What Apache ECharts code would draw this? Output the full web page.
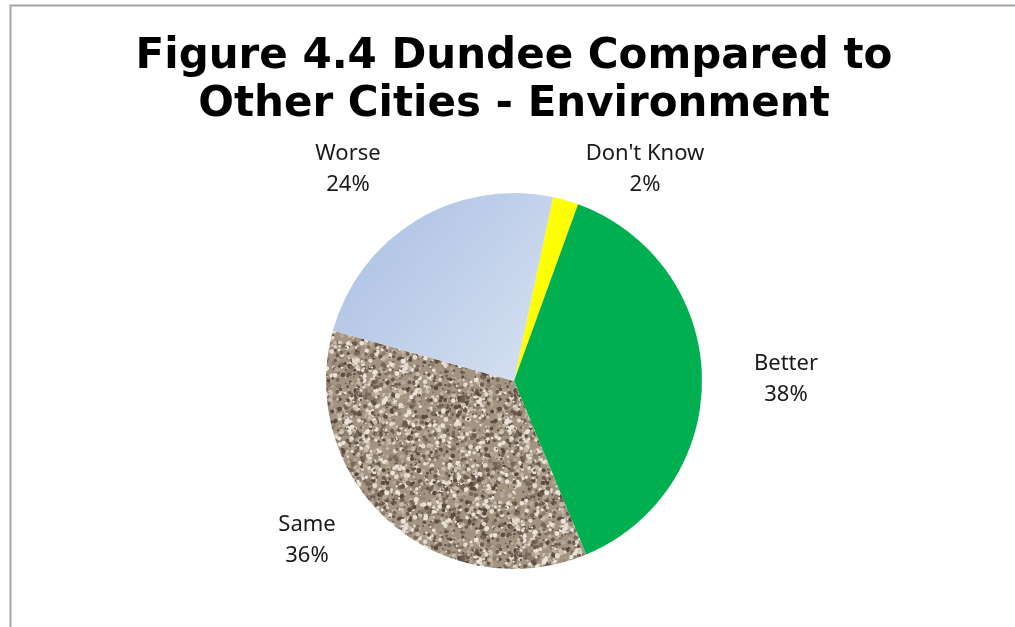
<!DOCTYPE html>
<html>
<head>
<meta charset="utf-8">
<script src="https://cdn.jsdelivr.net/npm/echarts@6/dist/echarts.min.js"></script>
<style>
html,body{margin:0;padding:0;background:#fff;}
#chart{width:1015px;height:627px;}
</style>
</head>
<body>
<div id="chart"></div>
<script>
// ---- data ----
const titleLines = ['Figure 4.4 Dundee Compared to', 'Other Cities - Environment'];
const categories = ["Don't Know", 'Better', 'Same', 'Worse'];
const values = [2.2, 38.2, 35.6, 24.0];
const percentLabels = ['2%', '38%', '36%', '24%'];

// ---- styles ----
const labelPos = [[645, 169], [786, 379], [307, 540], [348, 169]];

function makeGranite() {
  const c = document.createElement('canvas');
  c.width = 160; c.height = 160;
  const ctx = c.getContext('2d');
  ctx.fillStyle = '#a39482';
  ctx.fillRect(0, 0, 160, 160);
  let s = 987654;
  const rnd = () => { s = (s * 1103515245 + 12345) & 0x7fffffff; return s / 0x7fffffff; };
  const cols = ['#5a4b40', '#76675a', '#c8bbac', '#e4dbd0', '#8e7e70', '#b5a797', '#ece4da', '#6a5a4d'];
  for (let i = 0; i < 2600; i++) {
    const x = rnd() * 160, y = rnd() * 160;
    const r = 0.7 + rnd() * 1.8;
    ctx.fillStyle = cols[Math.floor(rnd() * cols.length)];
    for (const ox of [-160, 0, 160]) for (const oy of [-160, 0, 160]) {
      ctx.beginPath(); ctx.arc(x + ox, y + oy, r, 0, Math.PI * 2); ctx.fill();
    }
  }
  return c;
}

const colors = [
  '#ffff00',
  '#00b050',
  { image: makeGranite(), repeat: 'repeat' },
  { type: 'linear', x: 0, y: 0, x2: 1, y2: 1,
    colorStops: [{ offset: 0, color: '#a8bde3' }, { offset: 1, color: '#d8e2f1' }] }
];

const chart = echarts.init(document.getElementById('chart'));
chart.setOption({
  backgroundColor: '#ffffff',
  animation: false,
  title: {
    text: titleLines.join('\n'),
    left: 509,
    textAlign: 'center',
    top: 28,
    textStyle: {
      fontFamily: 'DejaVu Sans',
      fontWeight: 'bold',
      fontSize: 42,
      lineHeight: 48,
      color: '#000'
    }
  },
  graphic: [{
    type: 'rect',
    shape: { x: 10.5, y: 5.5, width: 1030, height: 660 },
    style: { fill: 'none', stroke: '#a6a6a6', lineWidth: 2 },
    silent: true
  }],
  series: [{
    type: 'pie',
    center: [514, 381],
    radius: [0, 188],
    startAngle: 78,
    clockwise: true,
    data: categories.map((c, i) => ({
      name: c,
      value: values[i],
      itemStyle: { color: colors[i] },
      label: { formatter: c + '\n' + percentLabels[i] }
    })),
    label: {
      show: true,
      position: 'outside',
      fontFamily: 'Noto Sans',
      fontSize: 22,
      lineHeight: 31,
      color: '#1a1a1a',
      align: 'center'
    },
    labelLine: { show: false },
    labelLayout: function (params) {
      const p = labelPos[params.dataIndex];
      return { x: p[0], y: p[1], align: 'center', verticalAlign: 'middle' };
    },
    itemStyle: { borderWidth: 0 },
    emphasis: { disabled: true }
  }]
});
</script>
</body>
</html>
